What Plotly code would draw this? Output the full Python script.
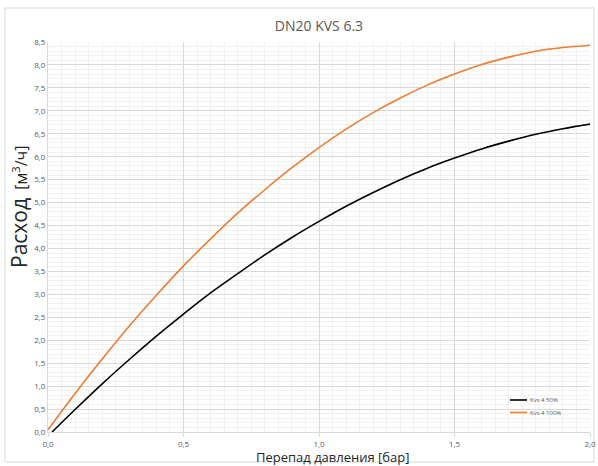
import plotly.graph_objects as go

# Data
x_black = [0.015, 0.1, 0.2, 0.3, 0.4, 0.5, 0.6, 0.7, 0.8, 0.9, 1.0,
           1.1, 1.2, 1.3, 1.4, 1.5, 1.6, 1.7, 1.8, 1.9, 2.0]
y_black = [0.0, 0.49, 1.05, 1.58, 2.09, 2.57, 3.03, 3.45, 3.86, 4.24, 4.59,
           4.92, 5.22, 5.50, 5.75, 5.97, 6.17, 6.34, 6.49, 6.61, 6.71]
x_orange = [0.0, 0.1, 0.2, 0.3, 0.4, 0.5, 0.6, 0.7, 0.8, 0.9, 1.0,
            1.1, 1.2, 1.3, 1.4, 1.5, 1.6, 1.7, 1.8, 1.9, 2.0]
y_orange = [0.05, 0.84, 1.59, 2.31, 2.98, 3.62, 4.21, 4.77, 5.28, 5.76, 6.20,
            6.60, 6.96, 7.28, 7.56, 7.80, 8.01, 8.17, 8.30, 8.38, 8.43]
series_names = ["Kvs 4 50%", "Kvs 4 100%"]
series_colors = ["#000000", "#ED7D31"]
title_text = "DN20 KVS 6.3"
x_title = "Перепад давления [бар]"
y_title = "<span style='font-size:21px'>Расход</span>  [м<sup>3</sup>/ч]"

W, H = 598, 466
L, R, T, B = 48, 8, 42, 34
PW, PH = W - L - R, H - T - B


def px2paper(px, py):
    return (px - L) / PW, (H - B - py) / PH


fig = go.Figure()
fig.add_trace(go.Scatter(x=x_black, y=y_black, mode="lines", name=series_names[0],
                         line=dict(color=series_colors[0], width=1.6, shape="spline")))
fig.add_trace(go.Scatter(x=x_orange, y=y_orange, mode="lines", name=series_names[1],
                         line=dict(color=series_colors[1], width=1.6, shape="spline")))

font_family = "Open Sans, Liberation Sans, sans-serif"
fig.update_layout(
    width=W, height=H,
    margin=dict(l=L, r=R, t=T, b=B),
    paper_bgcolor="white", plot_bgcolor="white",
    separators=", ",
    font=dict(family=font_family, color="#595959"),
    title=dict(text=title_text, x=(L + W - R) / 2 / W, xanchor="center",
               y=1 - 26 / H, yanchor="middle",
               font=dict(size=14, color="#595959", family=font_family)),
    showlegend=False,
    xaxis=dict(range=[0, 2.0], dtick=0.5, tickformat=".1f", automargin=False,
               showgrid=True, gridcolor="#d9d9d9", gridwidth=1,
               minor=dict(dtick=0.05, showgrid=True, gridcolor="#f2f2f2", gridwidth=1),
               showline=True, linecolor="#d9d9d9", linewidth=1,
               ticks="outside", ticklen=4, tickcolor="#d9d9d9",
               tickfont=dict(size=8, color="#595959"),
               zeroline=False),
    yaxis=dict(range=[0, 8.5], dtick=0.5, tickformat=".1f", automargin=False,
               showgrid=True, gridcolor="#d9d9d9", gridwidth=1,
               minor=dict(dtick=0.1, showgrid=True, gridcolor="#f2f2f2", gridwidth=1),
               showline=True, linecolor="#d9d9d9", linewidth=1,
               ticks="", tickfont=dict(size=8, color="#595959"),
               zeroline=False),
)

# axis titles
ax, ay = px2paper(333, 457)
fig.add_annotation(text=x_title, xref="paper", yref="paper", x=ax, y=ay,
                   xanchor="center", yanchor="middle", showarrow=False,
                   font=dict(size=13, color="#262626", family=font_family))
ax, ay = px2paper(19, 207)
fig.add_annotation(text=y_title, xref="paper", yref="paper", x=ax, y=ay,
                   xanchor="center", yanchor="middle", showarrow=False, textangle=-90,
                   font=dict(size=16, color="#262626", family=font_family))

# legend (drawn)
for i, (name, col) in enumerate(zip(series_names, series_colors)):
    py = 400 + i * 12.5
    x0, y0 = px2paper(510, py)
    x1, _ = px2paper(527, py)
    fig.add_shape(type="line", xref="paper", yref="paper", x0=x0, x1=x1, y0=y0, y1=y0,
                  line=dict(color=col, width=1.6))
    tx, ty = px2paper(528, py)
    fig.add_annotation(text=name, xref="paper", yref="paper", x=tx, y=ty,
                       xanchor="left", yanchor="middle", showarrow=False,
                       font=dict(size=6, color="#595959", family=font_family))

# outer chart frame
x0, y0 = px2paper(5, 462)
x1, y1 = px2paper(594, 8)
fig.add_shape(type="rect", xref="paper", yref="paper", x0=x0, x1=x1, y0=y0, y1=y1,
              line=dict(color="#d9d9d9", width=1), fillcolor="rgba(0,0,0,0)",
              layer="below")

fig.write_html("out.html", config={"displayModeBar": False})

# remove default page margin so the figure sits at the window's top-left corner
with open("out.html", "r", encoding="utf-8") as f:
    html = f.read()
html = html.replace("<body>", "<body style=\"margin:0;padding:0;overflow:hidden\">", 1)
with open("out.html", "w", encoding="utf-8") as f:
    f.write(html)
